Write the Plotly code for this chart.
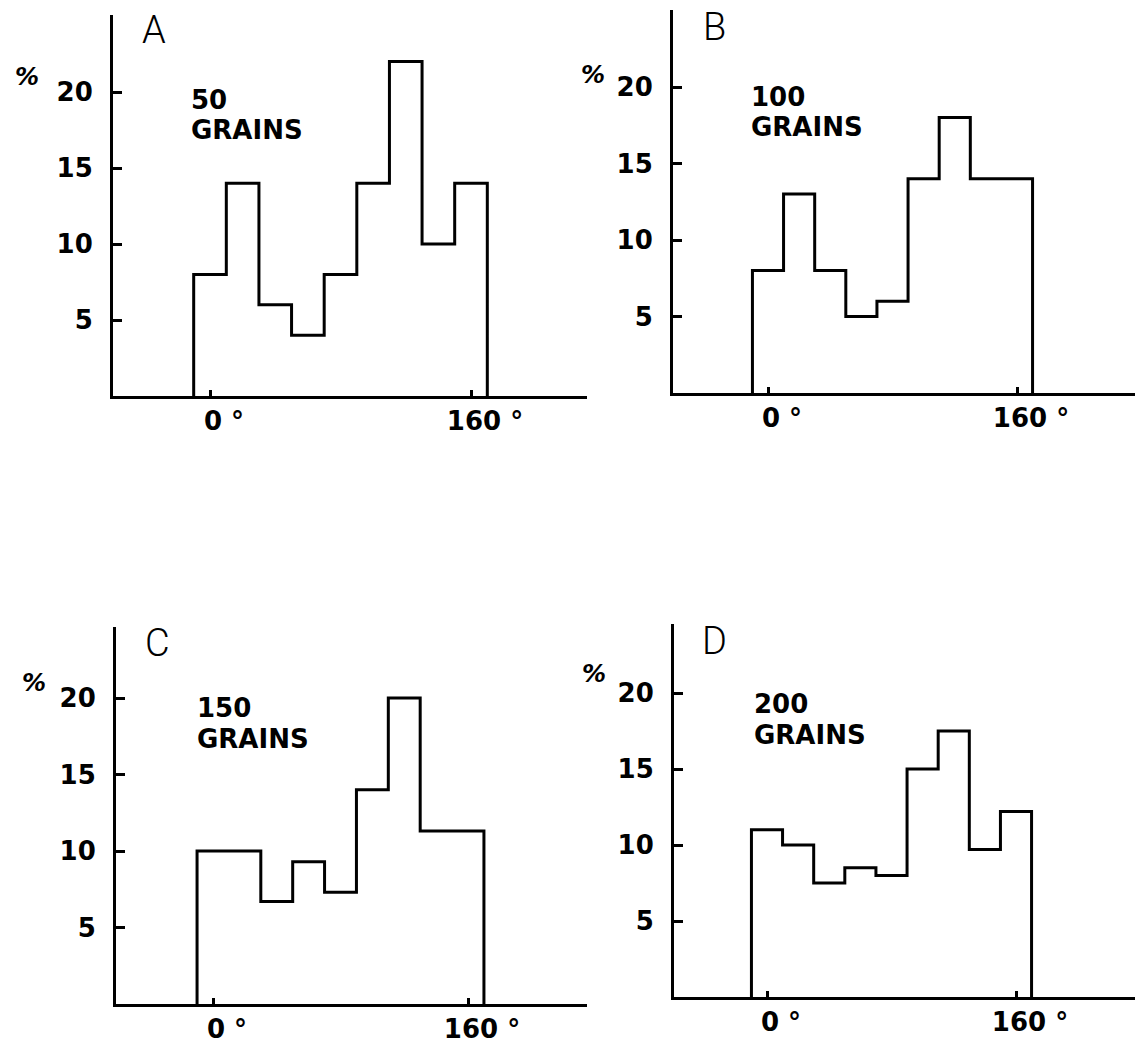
import plotly.graph_objects as go

W, H = 1135, 1046

# ---- data (percent of grains per 20-degree class) ----
bin_centers = [0, 20, 40, 60, 80, 100, 120, 140, 160]
bin_width = 20
pct_A = [8, 14, 6, 4, 8, 14, 22, 10, 14]            # 50 grains
pct_B = [8, 13, 8, 5, 6, 14, 18, 14, 14]            # 100 grains
pct_C = [10, 10, 6.7, 9.3, 7.3, 14, 20, 11.3, 11.3]  # 150 grains
pct_D = [11, 10, 7.5, 8.5, 8, 15, 17.5, 9.7, 12.2]   # 200 grains
panel_letters = ["A", "B", "C", "D"]
grain_counts = ["50", "100", "150", "200"]
grain_word = "GRAINS"
y_tick_vals = [5, 10, 15, 20]
x_tick_vals = [0, 160]
x_tick_text = ["0 °", "160 °"]

series = [pct_A, pct_B, pct_C, pct_D]

# ---- layout geometry (pixels) ----
geo = [
    dict(l=113, r=587, x0=210, x160=471, b=396, t=15, ppu=15.2),
    dict(l=673, r=1135, x0=768, x160=1017, b=393, t=10, ppu=15.3),
    dict(l=116, r=587, x0=213, x160=468, b=1004, t=627, ppu=15.3),
    dict(l=674, r=1135, x0=767, x160=1016, b=997, t=624, ppu=15.2),
]
letter_pos = [(154, 30), (714, 27), (157, 643), (714, 641)]
count_pos = [(189, 100), (749, 97), (195, 708), (752, 704)]
word_pos = [(189, 130), (749, 127), (195, 739), (752, 735)]
pct_pos = [(27, 77), (593, 75), (34, 683), (594, 674)]

FONT = "DejaVu Sans"
fig = go.Figure()
layout = dict(
    width=W, height=H, margin=dict(l=0, r=0, t=0, b=0),
    paper_bgcolor="white", plot_bgcolor="white", showlegend=False,
    annotations=[],
)

def step_path(values):
    xs = [bin_centers[0] - bin_width / 2]
    ys = [0]
    for c, v in zip(bin_centers, values):
        xs.append(c + bin_width / 2)
        ys.append(v)
    xs.append(bin_centers[-1] + bin_width / 2)
    ys.append(0)
    return xs, ys

def ann(text, x, y, size, xanchor="left", **font):
    return dict(
        text=text, xref="paper", yref="paper", x=x / W, y=1 - y / H,
        xanchor=xanchor, yanchor="middle", showarrow=False,
        font=dict(size=size, color="black", **font),
    )

for i, (vals, g) in enumerate(zip(series, geo)):
    k = "" if i == 0 else str(i + 1)
    ppd = (g["x160"] - g["x0"]) / 160.0
    xr = [(g["l"] - g["x0"]) / ppd, (g["r"] - g["x0"]) / ppd]
    yr = [0, (g["b"] - g["t"]) / g["ppu"]]
    xs, ys = step_path(vals)
    fig.add_trace(go.Scatter(
        x=xs, y=ys, mode="lines", line=dict(shape="vh", color="black", width=3),
        xaxis="x" + k, yaxis="y" + k, hoverinfo="skip", cliponaxis=False,
    ))
    layout["xaxis" + k] = dict(
        domain=[g["l"] / W, g["r"] / W], range=xr, anchor="y" + k,
        showline=True, linecolor="black", linewidth=3, showgrid=False, zeroline=False,
        ticks="inside", ticklen=6, tickwidth=3, tickcolor="black",
        tickvals=x_tick_vals, ticktext=x_tick_text, ticklabelshift=14,
        ticklabelstandoff=0,
        tickfont=dict(family=FONT, size=26, color="black", weight="bold"),
    )
    layout["yaxis" + k] = dict(
        domain=[1 - g["b"] / H, 1 - g["t"] / H], range=yr, anchor="x" + k,
        showline=True, linecolor="black", linewidth=3, showgrid=False, zeroline=False,
        ticks="inside", ticklen=9, tickwidth=3, tickcolor="black",
        tickvals=y_tick_vals, ticklabelstandoff=12,
        tickfont=dict(family=FONT, size=26, color="black", weight="bold"),
    )
    lx, ly = letter_pos[i]
    layout["annotations"].append(ann(panel_letters[i], lx, ly, 38, xanchor="center",
                                     family="Roboto", weight=300))
    cx, cy = count_pos[i]
    layout["annotations"].append(ann(grain_counts[i], cx, cy, 26, family=FONT, weight="bold"))
    wx, wy = word_pos[i]
    layout["annotations"].append(ann(grain_word, wx, wy, 26, family=FONT, weight="bold"))
    px_, py_ = pct_pos[i]
    layout["annotations"].append(ann("%", px_, py_, 24, xanchor="center",
                                     family=FONT, style="italic", weight="bold"))

fig.update_layout(**layout)
fig.write_html("out.html")
